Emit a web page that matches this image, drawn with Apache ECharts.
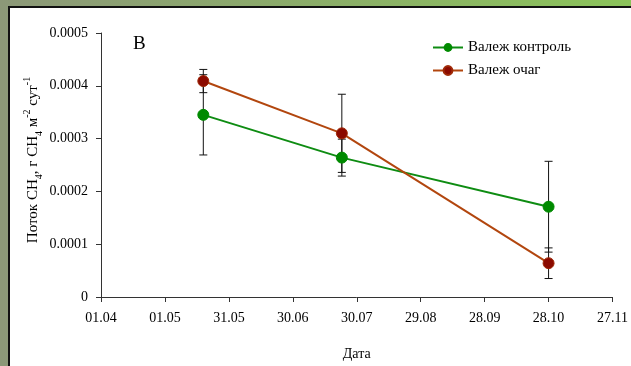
<!DOCTYPE html>
<html>
<head>
<meta charset="utf-8">
<script src="https://cdn.jsdelivr.net/npm/echarts@6/dist/echarts.min.js"></script>
<style>
  html, body { margin: 0; padding: 0; }
  #chart { width: 631px; height: 366px; }
</style>
</head>
<body>
<div id="chart"></div>
<script>
// Sampling dates as day offsets from 01.04
const sampleDays = [48, 113, 210];

// Methane flux, g CH4 m-2 day-1
const controlFlux = [0.000345, 0.000264, 0.000171];
const controlErr  = [0.000076, 0.000035, 0.000086];
const outbreakFlux = [0.000409, 0.000310, 0.000064];
const outbreakErr  = [0.000022, 0.000074, 0.000029];

const seriesNames = ['Валеж контроль', 'Валеж очаг'];
const xTickLabels = ['01.04', '01.05', '31.05', '30.06', '30.07', '29.08', '28.09', '28.10', '27.11'];
const yTickLabels = ['0', '0.0001', '0.0002', '0.0003', '0.0004', '0.0005'];

const serif = '"Liberation Serif", "Times New Roman", serif';

function pairs(xs, ys) { return xs.map((x, i) => [x, ys[i]]); }
function errRows(xs, ys, es) { return xs.map((x, i) => [x, ys[i] - es[i], ys[i] + es[i]]); }

function errorBarItem(params, api) {
  const lo = api.coord([api.value(0), api.value(1)]);
  const hi = api.coord([api.value(0), api.value(2)]);
  const w = 4;
  const style = { stroke: '#111', lineWidth: 1 };
  return {
    type: 'group',
    children: [
      { type: 'line', shape: { x1: hi[0], y1: hi[1], x2: lo[0], y2: lo[1] }, style },
      { type: 'line', shape: { x1: hi[0] - w, y1: hi[1], x2: hi[0] + w, y2: hi[1] }, style },
      { type: 'line', shape: { x1: lo[0] - w, y1: lo[1], x2: lo[0] + w, y2: lo[1] }, style }
    ]
  };
}

const chart = echarts.init(document.getElementById('chart'), null, { renderer: 'canvas' });

chart.setOption({
  animation: false,
  backgroundColor: 'transparent',
  graphic: [
    {
      type: 'rect', z: -20, silent: true,
      shape: { x: 0, y: 0, width: 631, height: 366 },
      style: {
        fill: new echarts.graphic.LinearGradient(0, 0, 1, 0, [
          { offset: 0, color: '#8c9878' },
          { offset: 1, color: '#8bc35a' }
        ])
      }
    },
    {
      type: 'rect', z: -19, silent: true,
      shape: { x: 9, y: 7, width: 640, height: 380 },
      style: { fill: '#ffffff', stroke: '#111111', lineWidth: 2 }
    },
    {
      type: 'text', z: 10,
      left: 133, top: 35,
      style: { text: 'В', font: '19px ' + serif, fill: '#000' }
    },
    {
      type: 'text', z: 10,
      x: 33, y: 160, rotation: Math.PI / 2,
      style: {
        text: '{t|Поток CH}{sub|4}{t|, г CH}{sub|4}{t| м}{sup|-2}{t| сут}{sup|-1}',
        align: 'center', verticalAlign: 'middle',
        fill: '#000',
        rich: {
          t: { fontFamily: serif, fontSize: 15, lineHeight: 22, verticalAlign: 'middle' },
          sub: { fontFamily: serif, fontSize: 10, lineHeight: 22, verticalAlign: 'bottom', padding: [6, 0, 0, 0] },
          sup: { fontFamily: serif, fontSize: 10, lineHeight: 22, verticalAlign: 'top', padding: [0, 0, 9, 0] }
        }
      }
    }
  ],
  legend: {
    orient: 'vertical',
    left: 427, top: 35,
    itemWidth: 30, itemHeight: 11, itemGap: 8,
    textStyle: { fontFamily: serif, fontSize: 15, color: '#000' },
    data: seriesNames
  },
  grid: { left: 101, right: 16, top: 33, bottom: 69 },
  xAxis: {
    type: 'value', min: 0, max: 240, interval: 30,
    name: 'Дата', nameLocation: 'middle', nameGap: 50,
    nameTextStyle: { fontFamily: serif, fontSize: 14, color: '#000' },
    axisLine: { lineStyle: { color: '#333', width: 1 } },
    axisTick: { show: true, length: 5, lineStyle: { color: '#333' } },
    axisLabel: {
      margin: 14, fontFamily: serif, fontSize: 14, color: '#000',
      formatter: v => xTickLabels[Math.round(v / 30)]
    },
    splitLine: { show: false }
  },
  yAxis: {
    type: 'value', min: 0, max: 0.0005, interval: 0.0001,
    axisLine: { show: true, lineStyle: { color: '#333', width: 1 } },
    axisTick: { show: true, length: 5, lineStyle: { color: '#333' } },
    axisLabel: {
      margin: 13, fontFamily: serif, fontSize: 14, color: '#000',
      formatter: v => yTickLabels[Math.round(v / 0.0001)]
    },
    splitLine: { show: false }
  },
  series: [
    {
      type: 'custom', name: 'err-control', z: 1, silent: true,
      renderItem: errorBarItem,
      encode: { x: 0, y: [1, 2] },
      data: errRows(sampleDays, controlFlux, controlErr)
    },
    {
      type: 'custom', name: 'err-outbreak', z: 1, silent: true,
      renderItem: errorBarItem,
      encode: { x: 0, y: [1, 2] },
      data: errRows(sampleDays, outbreakFlux, outbreakErr)
    },
    {
      type: 'line', name: seriesNames[0], z: 3,
      data: pairs(sampleDays, controlFlux),
      symbol: 'circle', symbolSize: 11,
      lineStyle: { color: '#0e8c12', width: 2 },
      itemStyle: { color: '#008a00', borderColor: '#008a00' }
    },
    {
      type: 'line', name: seriesNames[1], z: 4,
      data: pairs(sampleDays, outbreakFlux),
      symbol: 'circle', symbolSize: 11,
      lineStyle: { color: '#b2460e', width: 2 },
      itemStyle: { color: '#8b0a00', borderColor: '#a02a08', borderWidth: 1 }
    }
  ]
});
</script>
</body>
</html>
